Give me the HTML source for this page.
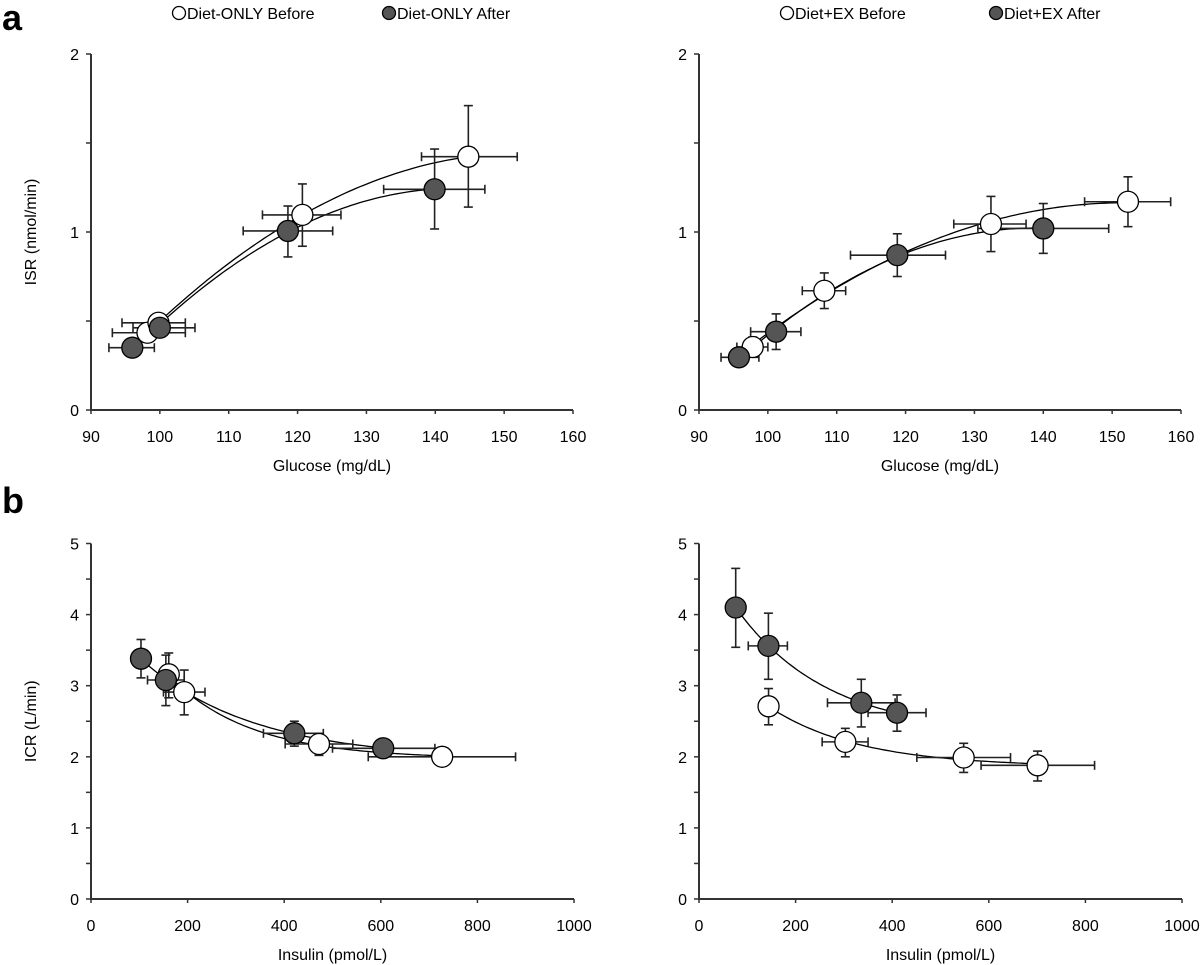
<!DOCTYPE html>
<html><head><meta charset="utf-8"><style>
body{margin:0;background:#fff;}
svg{display:block;font-family:"Liberation Sans",Arial,sans-serif;}
</style></head><body>
<svg id="c" width="1200" height="965" viewBox="0 0 1200 965">
<text x="2" y="30" font-size="36" font-weight="bold">a</text>
<text x="2" y="513" font-size="36" font-weight="bold">b</text>
<g>
<circle cx="179" cy="13" r="6.5" fill="#fff" stroke="#000" stroke-width="1.3"/>
<text x="187" y="19" font-size="16">Diet-ONLY Before</text>
<circle cx="389" cy="13" r="6.5" fill="#555" stroke="#000" stroke-width="1.3"/>
<text x="397" y="19" font-size="16">Diet-ONLY After</text>
</g>
<g>
<circle cx="787" cy="13" r="6.5" fill="#fff" stroke="#000" stroke-width="1.3"/>
<text x="795" y="19" font-size="16">Diet+EX Before</text>
<circle cx="996" cy="13" r="6.5" fill="#555" stroke="#000" stroke-width="1.3"/>
<text x="1004" y="19" font-size="16">Diet+EX After</text>
</g>
</svg>
<script>
// Panel A-left: Diet-ONLY ISR vs glucose
const aL_bx=[98.2,99.8,120.7,144.8], aL_by=[0.434,0.49,1.096,1.423];
const aL_bxl=[93.1,94.5,114.9,138], aL_bxh=[103.7,103.7,126.3,151.9];
const aL_byl=[0.40,0.44,0.92,1.14], aL_byh=[0.47,0.53,1.27,1.71];
const aL_ax=[96.0,100.0,118.6,139.9], aL_ay=[0.35,0.462,1.006,1.24];
const aL_axl=[92.6,96.1,112.1,132.5], aL_axh=[99.2,105.1,125.1,147.2];
const aL_ayl=[0.30,0.44,0.86,1.017], aL_ayh=[0.40,0.50,1.146,1.466];
// Panel A-right: Diet+EX
const aR_bx=[97.8,108.2,132.4,152.3], aR_by=[0.354,0.67,1.045,1.17];
const aR_bxl=[95.5,105,127,146], aR_bxh=[100,111.3,137.5,158.5];
const aR_byl=[0.31,0.57,0.89,1.03], aR_byh=[0.41,0.77,1.2,1.31];
const aR_ax=[95.8,101.2,118.8,140], aR_ay=[0.296,0.44,0.87,1.02];
const aR_axl=[93.2,97.5,112,130.5], aR_axh=[98.7,104.8,125.8,149.5];
const aR_ayl=[0.27,0.34,0.75,0.88], aR_ayh=[0.32,0.54,0.99,1.16];
// Panel B-left: Diet-ONLY ICR vs insulin
const bL_bx=[161,193,472,727], bL_by=[3.16,2.91,2.18,2.0];
const bL_bxl=[150,150,402,574], bL_bxh=[172,236,542,879];
const bL_byl=[2.83,2.59,2.02,1.88], bL_byh=[3.46,3.22,2.30,2.13];
const bL_ax=[103.5,155,421,605], bL_ay=[3.38,3.08,2.33,2.12];
const bL_axl=[98,117,357,500], bL_axh=[109,193,481,712];
const bL_ayl=[3.11,2.72,2.15,2.05], bL_ayh=[3.65,3.43,2.50,2.20];
// Panel B-right: Diet+EX
const bR_bx=[144,303,548,701], bR_by=[2.71,2.21,1.99,1.88];
const bR_bxl=[140,255,451,584], bR_bxh=[148,350,645,819];
const bR_byl=[2.45,2.0,1.78,1.66], bR_byh=[2.96,2.4,2.19,2.08];
const bR_ax=[76,143.7,336,410], bR_ay=[4.10,3.56,2.76,2.62];
const bR_axl=[72,102,266,350], bR_axh=[80,183,406,470];
const bR_ayl=[3.54,3.09,2.42,2.36], bR_ayh=[4.65,4.02,3.09,2.87];
// ticks
const glucTicks=[90,100,110,120,130,140,150,160];
const isrTicks=[0,1,2];
const insTicks=[0,200,400,600,800,1000];
const icrTicks=[0,1,2,3,4,5];

const NS="http://www.w3.org/2000/svg", svg=document.getElementById('c');
function mk(tag,attrs,parent){const e=document.createElementNS(NS,tag);for(const k in attrs)e.setAttribute(k,attrs[k]);(parent||svg).appendChild(e);return e;}

function fitQuad(xs,ys){
  const n=xs.length;let S=[[0,0,0],[0,0,0],[0,0,0]],T=[0,0,0];
  for(let i=0;i<n;i++){const v=[1,xs[i],xs[i]*xs[i]];for(let r=0;r<3;r++){T[r]+=v[r]*ys[i];for(let c=0;c<3;c++)S[r][c]+=v[r]*v[c];}}
  const M=S.map((r,i)=>[...r,T[i]]);
  for(let i=0;i<3;i++){let p=i;for(let j=i+1;j<3;j++)if(Math.abs(M[j][i])>Math.abs(M[p][i]))p=j;[M[i],M[p]]=[M[p],M[i]];
    for(let j=0;j<3;j++)if(j!==i){const f=M[j][i]/M[i][i];for(let k=i;k<4;k++)M[j][k]-=f*M[i][k];}}
  const co=[M[0][3]/M[0][0],M[1][3]/M[1][1],M[2][3]/M[2][2]];
  return x=>co[0]+co[1]*x+co[2]*x*x;
}
function fitExp(xs,ys){
  let best=null;
  for(let b=0.0005;b<0.05;b+=0.0002){
    const e=xs.map(x=>Math.exp(-b*x));const n=xs.length;
    let se=0,sy=0,see=0,sey=0;for(let i=0;i<n;i++){se+=e[i];sy+=ys[i];see+=e[i]*e[i];sey+=e[i]*ys[i];}
    const d=n*see-se*se;if(Math.abs(d)<1e-12)continue;
    const a=(n*sey-se*sy)/d,c=(sy-a*se)/n;
    let err=0;for(let i=0;i<n;i++)err+=Math.pow(c+a*e[i]-ys[i],2);
    if(!best||err<best.err)best={a,b,c,err};
  }
  return x=>best.c+best.a*Math.exp(-best.b*x);
}

function panel(o){
  const g=mk('g',{});
  
  
  const X=v=>o.x0+(v-o.xmin)/(o.xmax-o.xmin)*o.w;
  const Y=v=>o.y0-(v-o.ymin)/(o.ymax-o.ymin)*o.h;
  const ax=mk('path',{d:`M${o.x0},${o.y0-o.h}V${o.y0}H${o.x0+o.w}`,fill:'none',stroke:'#333','stroke-width':2},g);
  
  
  o.xt.forEach(t=>{mk('line',{x1:X(t),x2:X(t),y1:o.y0,y2:o.y0+4,stroke:'#333','stroke-width':1.5},g);
    const tx=mk('text',{x:X(t),y:o.y0+32,'font-size':16,'text-anchor':'middle'},g);tx.textContent=t;
    
    });
  for(let i=0;i<o.yt.length;i++){const t=o.yt[i];
    mk('line',{x1:o.x0-5,x2:o.x0,y1:Y(t),y2:Y(t),stroke:'#333','stroke-width':1.5},g);
    if(i<o.yt.length-1)mk('line',{x1:o.x0-5,x2:o.x0,y1:Y(t+o.minor),y2:Y(t+o.minor),stroke:'#333','stroke-width':1.5},g);
    const ty=mk('text',{x:o.x0-12,y:Y(t)+6,'font-size':16,'text-anchor':'end'},g);ty.textContent=t;
    
    }
  const xl=mk('text',{x:o.x0+o.w/2,y:o.y0+61,'font-size':16,'text-anchor':'middle'},g);xl.textContent=o.xlab;
  
  
  const yc=o.y0-o.h/2;
  const yl=mk('text',{x:o.x0-55,y:yc,'font-size':16,'text-anchor':'middle',transform:`rotate(-90 ${o.x0-55} ${yc})`},g);yl.textContent=o.ylab;
  
  
  o.series.forEach(s=>{
    const f=o.exp?fitExp(s.x,s.y):fitQuad(s.x,s.y);
    const lo=Math.min(...s.x),hi=Math.max(...s.x);let d='';
    for(let i=0;i<=80;i++){const v=lo+(hi-lo)*i/80;d+=(i?'L':'M')+X(v).toFixed(1)+','+Y(f(v)).toFixed(1);}
    const p=mk('path',{d,fill:'none',stroke:'#000','stroke-width':1.3},g);
    
    
  });
  o.series.forEach(s=>{
    for(let i=0;i<s.x.length;i++){
      const eg=mk('g',{stroke:'#222','stroke-width':1.6},g);
      
      
      const cx=X(s.x[i]),cy=Y(s.y[i]);
      mk('line',{x1:X(s.xl[i]),x2:X(s.xh[i]),y1:cy,y2:cy},eg);
      mk('line',{x1:X(s.xl[i]),x2:X(s.xl[i]),y1:cy-4.5,y2:cy+4.5},eg);
      mk('line',{x1:X(s.xh[i]),x2:X(s.xh[i]),y1:cy-4.5,y2:cy+4.5},eg);
      mk('line',{x1:cx,x2:cx,y1:Y(s.yl[i]),y2:Y(s.yh[i])},eg);
      mk('line',{x1:cx-4.5,x2:cx+4.5,y1:Y(s.yl[i]),y2:Y(s.yl[i])},eg);
      mk('line',{x1:cx-4.5,x2:cx+4.5,y1:Y(s.yh[i]),y2:Y(s.yh[i])},eg);
    }
  });
  o.series.forEach(s=>{
    for(let i=0;i<s.x.length;i++){
      const c=mk('circle',{cx:X(s.x[i]),cy:Y(s.y[i]),r:10.5,fill:s.fill,stroke:'#000','stroke-width':1.3},g);
      
      
    }
  });
}
function S(name,fill,x,y,xl,xh,yl,yh){return {name,fill,x,y,xl,xh,yl,yh};}
panel({name:'isr-diet-only-chart',x0:91,y0:410,w:482,h:356,xmin:90,xmax:160,ymin:0,ymax:2,xt:glucTicks,yt:isrTicks,minor:0.5,
  xlab:'Glucose (mg/dL)',ylab:'ISR (nmol/min)',exp:false,
  series:[S('before','#fff',aL_bx,aL_by,aL_bxl,aL_bxh,aL_byl,aL_byh),S('after','#555',aL_ax,aL_ay,aL_axl,aL_axh,aL_ayl,aL_ayh)]});
panel({name:'isr-diet-ex-chart',x0:699,y0:410,w:482,h:356,xmin:90,xmax:160,ymin:0,ymax:2,xt:glucTicks,yt:isrTicks,minor:0.5,
  xlab:'Glucose (mg/dL)',ylab:'',exp:false,
  series:[S('before','#fff',aR_bx,aR_by,aR_bxl,aR_bxh,aR_byl,aR_byh),S('after','#555',aR_ax,aR_ay,aR_axl,aR_axh,aR_ayl,aR_ayh)]});
panel({name:'icr-diet-only-chart',x0:91,y0:899,w:483,h:355.5,xmin:0,xmax:1000,ymin:0,ymax:5,xt:insTicks,yt:icrTicks,minor:0.5,
  xlab:'Insulin (pmol/L)',ylab:'ICR (L/min)',exp:true,
  series:[S('before','#fff',bL_bx,bL_by,bL_bxl,bL_bxh,bL_byl,bL_byh),S('after','#555',bL_ax,bL_ay,bL_axl,bL_axh,bL_ayl,bL_ayh)]});
panel({name:'icr-diet-ex-chart',x0:699,y0:899,w:483,h:355.5,xmin:0,xmax:1000,ymin:0,ymax:5,xt:insTicks,yt:icrTicks,minor:0.5,
  xlab:'Insulin (pmol/L)',ylab:'',exp:true,
  series:[S('before','#fff',bR_bx,bR_by,bR_bxl,bR_bxh,bR_byl,bR_byh),S('after','#555',bR_ax,bR_ay,bR_axl,bR_axh,bR_ayl,bR_ayh)]});
</script>
</body></html>
